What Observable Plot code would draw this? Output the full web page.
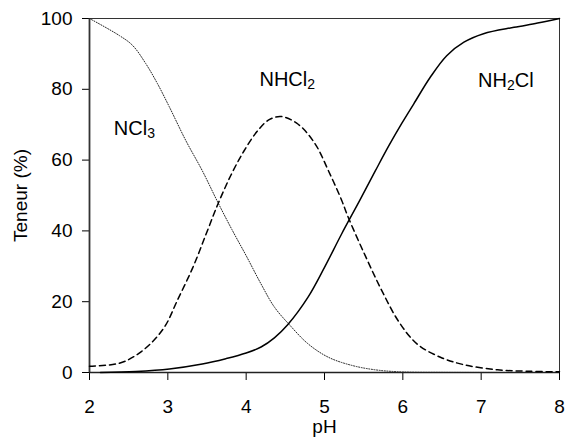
<!DOCTYPE html>
<html>
<head>
<meta charset="utf-8">
<script src="https://cdn.jsdelivr.net/npm/d3@7"></script>
<script src="https://cdn.jsdelivr.net/npm/@observablehq/plot@0.6"></script>
<style>
  body { margin: 0; background: #fff; }
  #chart { width: 565px; height: 441px; }
</style>
</head>
<body>
<div id="chart"></div>
<script>
// ---- data ----
const xTicks = [2, 3, 4, 5, 6, 7, 8];
const yTicks = [0, 20, 40, 60, 80, 100];

const ncl3PH  = [2.00, 2.38, 2.55, 2.72, 2.87, 3.02, 3.23, 3.44, 3.64, 3.82, 4.00, 4.19, 4.36, 4.56, 4.79, 5.05, 5.35, 5.65, 6.00, 6.50, 7.00, 7.40];
const ncl3Pct = [100, 95.2, 92.4, 87.2, 81.5, 75.0, 65.5, 57.0, 48.0, 40.3, 33.0, 25.0, 18.5, 13.3, 8.1, 4.3, 2.0, 0.75, 0.15, 0.03, 0.01, 0];

const nhcl2PH  = [2.00, 2.38, 2.59, 2.80, 2.97, 3.12, 3.32, 3.49, 3.64, 3.80, 3.97, 4.15, 4.30, 4.45, 4.66, 4.88, 5.05, 5.22, 5.30, 5.52, 5.73, 5.95, 6.18, 6.48, 6.78, 7.21, 7.60, 8.00];
const nhcl2Pct = [1.8, 2.6, 4.8, 8.6, 13.3, 20.3, 29.7, 39.2, 47.6, 55.5, 62.5, 68.4, 71.5, 72.3, 70.2, 64.6, 57.0, 48.6, 44.0, 33.0, 23.2, 14.3, 8.1, 4.3, 2.2, 0.75, 0.35, 0.2];

const nh2clPH  = [2.14, 2.59, 3.02, 3.44, 3.74, 4.00, 4.19, 4.36, 4.53, 4.79, 5.00, 5.22, 5.45, 5.65, 5.82, 5.99, 6.14, 6.35, 6.56, 6.78, 7.03, 7.42, 7.72, 8.00];
const nh2clPct = [0, 0.3, 1.0, 2.4, 3.9, 5.5, 7.2, 9.8, 13.5, 21.3, 29.7, 39.2, 48.6, 57.0, 64.0, 70.5, 75.9, 83.4, 89.5, 93.3, 95.7, 97.5, 98.7, 100];

const speciesNames = ["NCl3", "NHCl2", "NH2Cl"];
const labelPH  = [2.31, 4.17, 6.96];
const labelPct = [69, 82.8, 82.5];

// ---- build tables ----
const toRows = (ph, pct) => ph.map((p, i) => ({ph: p, pct: pct[i]}));
const ncl3 = toRows(ncl3PH, ncl3Pct);
const nhcl2 = toRows(nhcl2PH, nhcl2Pct);
const nh2cl = toRows(nh2clPH, nh2clPct);
const labels = speciesNames.map((n, i) => ({name: n, ph: labelPH[i], pct: labelPct[i]}));

const chart = Plot.plot({
  width: 565,
  height: 441,
  marginLeft: 89,
  marginRight: 6,
  marginTop: 18,
  marginBottom: 69,
  style: {fontFamily: "'Liberation Sans', Arial, sans-serif", fontSize: "19px", color: "#000", background: "#fff"},
  x: {domain: [2, 8]},
  y: {domain: [0, 100]},
  marks: [
    Plot.frame({stroke: "#333", strokeWidth: 1}),
    Plot.axisX({ticks: xTicks, tickSize: 8, tickPadding: 19, tickFormat: d => String(d),
                label: "pH", labelAnchor: "center", labelOffset: 60, labelArrow: "none"}),
    Plot.axisY({ticks: yTicks, tickSize: 7, tickPadding: 10, tickFormat: d => String(d),
                label: "Teneur (%)", labelAnchor: "center", labelOffset: 76, labelArrow: "none"}),
    Plot.ruleX([2], {stroke: "#333", strokeWidth: 1.8}),
    Plot.ruleY([0], {stroke: "#222", strokeWidth: 1.4}),
    Plot.line(ncl3, {x: "ph", y: "pct", stroke: "#222", strokeWidth: 1, strokeDasharray: "1,1.6", curve: "catmull-rom"}),
    Plot.line(nhcl2, {x: "ph", y: "pct", stroke: "#000", strokeWidth: 1.5, strokeDasharray: "6,4", curve: "catmull-rom"}),
    Plot.line(nh2cl, {x: "ph", y: "pct", stroke: "#000", strokeWidth: 1.5, curve: "catmull-rom"}),
    Plot.text(labels, {x: "ph", y: "pct", text: "name", textAnchor: "start", fontSize: 20, fill: "#000"})
  ]
});

// subscripts for chemical formulas
d3.select(chart).selectAll('g[aria-label="text"] text').each(function () {
  const t = this.textContent;
  const parts = t.match(/[A-Za-z]+|\d+/g);
  if (!parts) return;
  const sel = d3.select(this);
  sel.text(null);
  let shifted = false;
  parts.forEach(p => {
    const ts = sel.append("tspan").text(p);
    if (/\d/.test(p)) {
      ts.attr("font-size", 14).attr("dy", 3);
      shifted = true;
    } else if (shifted) {
      ts.attr("dy", -3);
      shifted = false;
    }
  });
});

document.getElementById("chart").appendChild(chart);
</script>
</body>
</html>
